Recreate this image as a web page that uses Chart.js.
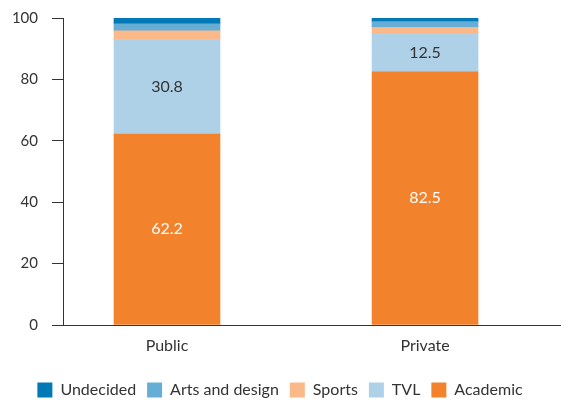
<!DOCTYPE html>
<html>
<head>
<meta charset="utf-8">
<script src="https://cdn.jsdelivr.net/npm/chart.js@4/dist/chart.umd.min.js"></script>
<style>
  html, body { margin: 0; padding: 0; background: #fff; }
  #wrap { width: 585px; height: 400px; }
</style>
</head>
<body>
<div id="wrap"><canvas id="schoolChart" width="585" height="400"></canvas></div>
<script>
// Chart data
const categories = ['Public', 'Private'];
const academic = [62.2, 82.5];
const tvl = [30.8, 12.5];
const sports = [2.8, 1.9];
const artsDesign = [2.3, 1.9];
const undecided = [1.9, 1.2];
const yTicks = [0, 20, 40, 60, 80, 100];

const labelled = ['Academic', 'TVL'];

/* Writes the value in the middle of the Academic and TVL segments */
const segmentLabels = {
    id: 'segmentLabels',
    afterDatasetsDraw(chart) {
        const ctx = chart.ctx;
        ctx.save();
        ctx.font = '16px Lato';
        ctx.textAlign = 'center';
        ctx.textBaseline = 'middle';
        chart.data.datasets.forEach((ds, i) => {
            if (!labelled.includes(ds.label)) return;
            const meta = chart.getDatasetMeta(i);
            meta.data.forEach((bar, j) => {
                ctx.fillStyle = ds.label === 'Academic' ? '#ffffff' : '#333333';
                ctx.fillText(ds.data[j].y.toFixed(1), bar.x, (bar.y + bar.base) / 2);
            });
        });
        ctx.restore();
    }
};

const toPoints = (values) => values.map((v, i) => ({ x: i, y: v }));

const build = () => {

    const data = {
        datasets: [
            { label: 'Academic', data: toPoints(academic), backgroundColor: '#f3822c' },
            { label: 'TVL', data: toPoints(tvl), backgroundColor: '#afd1e8' },
            { label: 'Sports', data: toPoints(sports), backgroundColor: '#fbb98a' },
            { label: 'Arts and design', data: toPoints(artsDesign), backgroundColor: '#67aed6' },
            { label: 'Undecided', data: toPoints(undecided), backgroundColor: '#0079b6' }
        ]
    };

    const config = {
        type: 'bar',
        data: data,
        plugins: [segmentLabels],
        options: {
            responsive: false,
            animation: false,
            barThickness: 106,
            layout: { padding: { top: 0, right: 25, left: 0, bottom: -8 } },
            plugins: {
                tooltip: { enabled: false },
                legend: {
                    position: 'bottom',
                    reverse: true,
                    labels: {
                        boxWidth: 15,
                        boxHeight: 15,
                        padding: 11,
                        color: '#333',
                        font: { family: 'Lato', size: 16 }
                    }
                }
            },
            scales: {
                x: {
                    type: 'linear',
                    stacked: true,
                    offset: false,
                    min: -0.403,
                    max: 1.523,
                    afterBuildTicks: (scale) => {
                        scale.ticks = categories.map((c, i) => ({ value: i }));
                    },
                    afterFit: (scale) => { scale.height = 46; },
                    ticks: {
                        callback: (v) => categories[v] ?? '',
                        color: '#333',
                        padding: 11,
                        font: { family: 'Lato', size: 16 }
                    },
                    grid: { display: false, drawTicks: false },
                    border: { color: '#333', width: 1 }
                },
                y: {
                    stacked: true,
                    min: 0,
                    max: 100,
                    afterBuildTicks: (scale) => {
                        scale.ticks = yTicks.map(v => ({ value: v }));
                    },
                    afterFit: (scale) => {
                        scale.width = 63;
                        scale.paddingTop = 18;
                    },
                    ticks: {
                        color: '#333',
                        padding: 14,
                        font: { family: 'Lato', size: 15 }
                    },
                    grid: {
                        drawOnChartArea: false,
                        drawTicks: true,
                        tickLength: 11,
                        tickColor: '#333'
                    },
                    border: { color: '#333', width: 1 }
                }
            }
        }
    };

    const ctx = document.getElementById('schoolChart').getContext('2d');
    new Chart(ctx, config);
}

document.addEventListener('DOMContentLoaded', () => {
    build();
});
</script>
</body>
</html>
